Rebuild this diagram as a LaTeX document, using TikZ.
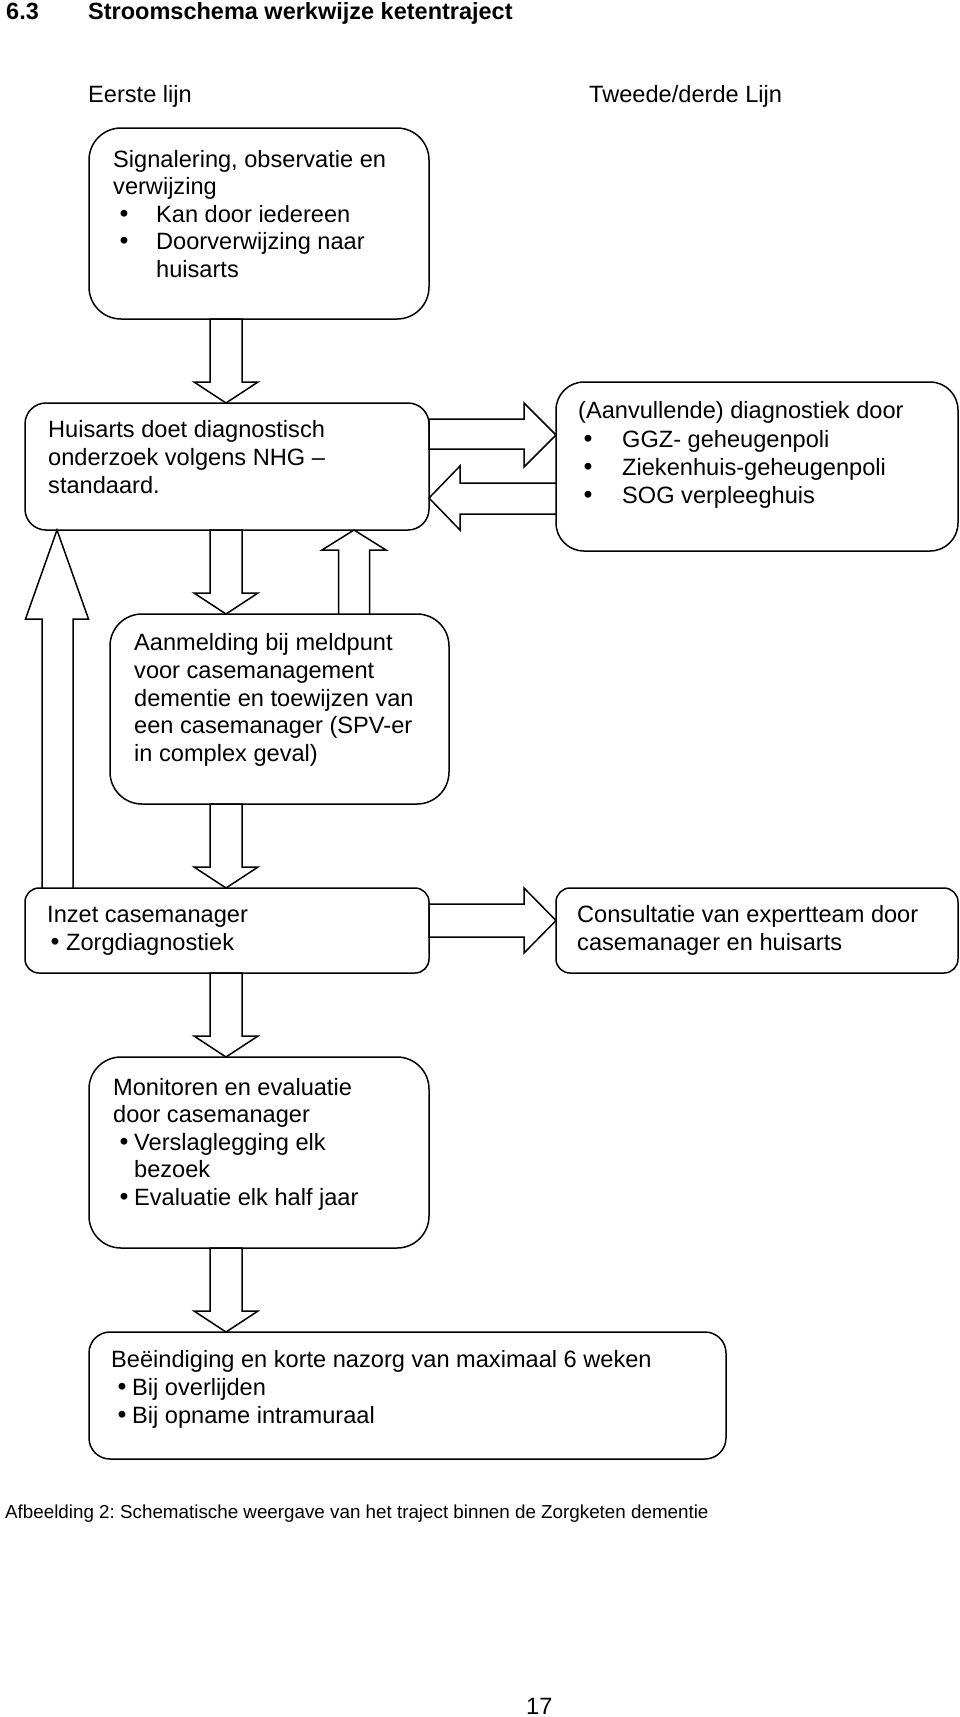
\documentclass[tikz,border=0pt]{standalone}
\usepackage{fontspec}
\setmainfont{Liberation Sans}
\newfontfamily\dejavu{DejaVu Sans}
\usetikzlibrary{calc}
\newcommand\bul[1]{\makebox[#1][l]{{\dejavu •}}}
\tikzset{
  box/.style={draw, line width=1.5pt, rounded corners=#1, inner sep=0pt, outer sep=0pt, anchor=north west},
  blk/.style={draw, line width=1.5pt, fill=white, line join=miter},
  txt/.style={inner sep=0pt, anchor=base west, font=\fontsize{23.6pt}{27.6pt}\selectfont\frenchspacing},
  ttl/.style={inner sep=0pt, anchor=base west, font=\fontsize{23.5pt}{27.6pt}\selectfont\bfseries},
  captxt/.style={inner sep=0pt, anchor=base west, font=\fontsize{18.8pt}{22pt}\selectfont\frenchspacing},
}
\begin{document}
\begin{tikzpicture}[x=1pt,y=1pt]
\useasboundingbox (0,0) rectangle (960,-1717);
\fill[white] (0,0) rectangle (960,-1717);

% title and headers
\node[ttl] (n63) at (6,-19) {6.3};
\node[ttl] (title) at (88,-19) {Stroomschema werkwijze ketentraject};
\node[txt] (h1) at (88,-102) {Eerste lijn};
\node[txt] (h2) at (589,-102) {Tweede/derde Lijn};

% boxes
\node[box=32pt, minimum width=340pt, minimum height=191pt] (b1) at (89,-128) {};
\node[box=21pt, minimum width=404pt, minimum height=127pt] (b2) at (25,-403) {};
\node[box=28pt, minimum width=402pt, minimum height=169pt] (b3) at (556,-382) {};
\node[box=32pt, minimum width=339pt, minimum height=190pt] (b4) at (110,-614) {};
\node[box=14pt, minimum width=404pt, minimum height=85pt] (b5) at (25,-888) {};
\node[box=14pt, minimum width=402pt, minimum height=85pt] (b6) at (556,-888) {};
\node[box=32pt, minimum width=340pt, minimum height=191pt] (b7) at (89,-1057) {};
\node[box=21pt, minimum width=637pt, minimum height=127pt] (b8) at (89,-1332) {};

% down arrows
\foreach \s/\t in {b1/b2, b2/b4, b4/b5, b5/b7, b7/b8}{
  \draw[blk] let \p1=(\s.south), \p2=(\t.north) in
    (210pt,\y1) -- (210pt,\y2+21pt) -- (194pt,\y2+21pt) -- (226pt,\y2)
    -- (258pt,\y2+21pt) -- (242pt,\y2+21pt) -- (242pt,\y1) -- cycle;
}
% up arrow b4 -> b2
\draw[blk] let \p1=(b4.north), \p2=(b2.south) in
  (338.5pt,\y1) -- (338.5pt,\y2-20pt) -- (322pt,\y2-20pt) -- (354pt,\y2)
  -- (386pt,\y2-20pt) -- (369.5pt,\y2-20pt) -- (369.5pt,\y1) -- cycle;
% tall up arrow b5 -> b2
\draw[blk] let \p1=(b5.north), \p2=(b2.south) in
  (42pt,\y1) -- (42pt,\y2-89pt) -- (25.5pt,\y2-89pt) -- (57pt,\y2)
  -- (88.5pt,\y2-89pt) -- (73pt,\y2-89pt) -- (73pt,\y1) -- cycle;
% right arrow b2 -> b3
\draw[blk] let \p1=(b2.east), \p2=(b3.west) in
  (\x1,-419pt) -- (\x2-32pt,-419pt) -- (\x2-32pt,-403pt) -- (\x2,-435pt)
  -- (\x2-32pt,-467pt) -- (\x2-32pt,-449pt) -- (\x1,-449pt) -- cycle;
% left arrow b3 -> b2
\draw[blk] let \p1=(b3.west), \p2=(b2.east) in
  (\x1,-483pt) -- (\x2+31pt,-483pt) -- (\x2+31pt,-466pt) -- (\x2,-498pt)
  -- (\x2+31pt,-530pt) -- (\x2+31pt,-514pt) -- (\x1,-514pt) -- cycle;
% right arrow b5 -> b6
\draw[blk] let \p1=(b5.east), \p2=(b6.west) in
  (\x1,-904pt) -- (\x2-32pt,-904pt) -- (\x2-32pt,-888pt) -- (\x2,-920.5pt)
  -- (\x2-32pt,-953pt) -- (\x2-32pt,-937pt) -- (\x1,-937pt) -- cycle;

% box 1 text
\node[txt] (t1a) at (113,-167) {Signalering, observatie en};
\node[txt] (t1b) at (113,-194.5) {verwijzing};
\node[txt] (t1c) at (117,-222) {\bul{39pt}Kan door iedereen};
\node[txt] (t1d) at (117,-249.5) {\bul{39pt}Doorverwijzing naar};
\node[txt] (t1e) at (156,-277) {huisarts};

% box 2 text
\node[txt] (t2a) at (48,-437) {Huisarts doet diagnostisch};
\node[txt] (t2b) at (48,-465) {onderzoek volgens NHG –};
\node[txt] (t2c) at (48,-493) {standaard.};

% box 3 text
\node[txt] (t3a) at (578,-418) {(Aanvullende) diagnostiek door};
\node[txt] (t3b) at (581,-447) {\bul{41pt}GGZ- geheugenpoli};
\node[txt] (t3c) at (581,-475) {\bul{41pt}Ziekenhuis-geheugenpoli};
\node[txt] (t3d) at (581,-503) {\bul{41pt}SOG verpleeghuis};

% box 4 text
\node[txt] (t4a) at (134,-650) {Aanmelding bij meldpunt};
\node[txt] (t4b) at (134,-678) {voor casemanagement};
\node[txt] (t4c) at (134,-706) {dementie en toewijzen van};
\node[txt] (t4d) at (134,-733.5) {een casemanager (SPV-er};
\node[txt] (t4e) at (134,-761.5) {in complex geval)};

% box 5 text
\node[txt] (t5a) at (47,-922) {Inzet casemanager};
\node[txt] (t5b) at (48,-950) {\bul{18pt}Zorgdiagnostiek};

% box 6 text
\node[txt] (t6a) at (577,-922) {Consultatie van expertteam door};
\node[txt] (t6b) at (577,-950) {casemanager en huisarts};

% box 7 text
\node[txt] (t7a) at (113,-1095) {Monitoren en evaluatie};
\node[txt] (t7b) at (113,-1122.5) {door casemanager};
\node[txt] (t7c) at (117,-1150) {\bul{17pt}Verslaglegging elk};
\node[txt] (t7d) at (134,-1177.5) {bezoek};
\node[txt] (t7e) at (117,-1205) {\bul{17pt}Evaluatie elk half jaar};

% box 8 text
\node[txt] (t8a) at (111,-1367) {Beëindiging en korte nazorg van maximaal 6 weken};
\node[txt] (t8b) at (115,-1395) {\bul{17pt}Bij overlijden};
\node[txt] (t8c) at (115,-1423) {\bul{17pt}Bij opname intramuraal};

% caption and page number
\node[captxt] (caption) at (5,-1518) {Afbeelding 2: Schematische weergave van het traject binnen de Zorgketen dementie};
\node[txt] (page) at (526,-1714) {17};
\end{tikzpicture}
\end{document}
